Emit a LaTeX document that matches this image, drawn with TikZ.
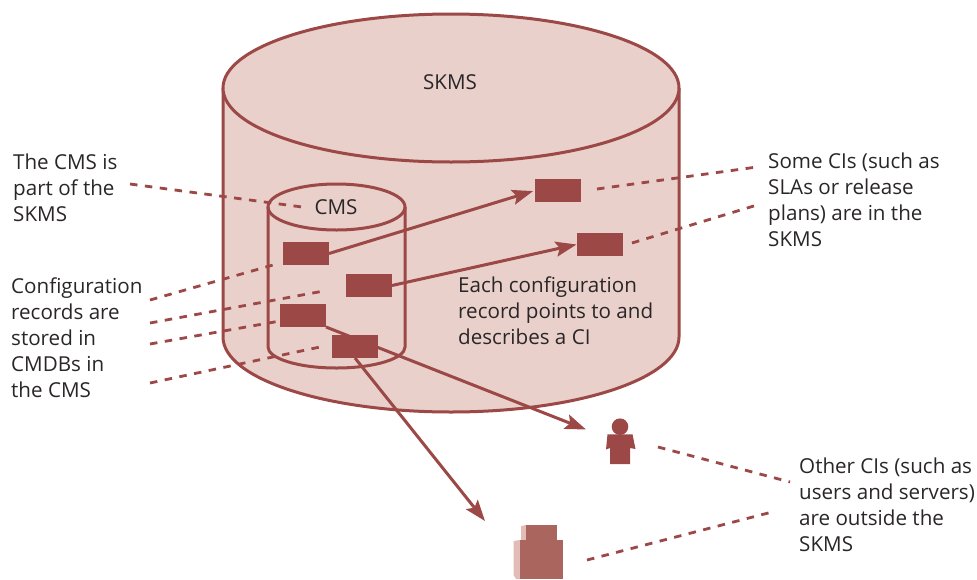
\documentclass[tikz,border=0pt]{standalone}
\usepackage{fontspec}
\setmainfont{Open Sans}
\usetikzlibrary{arrows.meta}
\definecolor{wine}{HTML}{9C4846}
\definecolor{blush}{HTML}{E9D0CB}
\definecolor{ink}{HTML}{2A2627}
\definecolor{srv}{HTML}{AB655F}
\definecolor{srvl}{HTML}{E2BDB8}
\tikzset{
 outline/.style={draw=wine,line width=3pt},
 rec/.style={fill=wine,draw=none,minimum width=46pt,minimum height=23pt,inner sep=0pt,outer sep=0pt},
 lead/.style={draw=wine,line width=2.8pt,dash pattern=on 7.5pt off 7.5pt},
 ptr/.style={draw=wine,line width=3pt,-{Stealth[length=21pt,width=15pt,inset=4pt]}},
 txt/.style={font=\fontsize{20.6pt}{26pt}\selectfont,text=ink,align=left,inner sep=0pt,anchor=north west},
 lab/.style={font=\fontsize{20.6pt}{26pt}\selectfont,text=ink,inner sep=0pt}
}
\begin{document}
\begin{tikzpicture}[x=1pt,y=-1pt]
\useasboundingbox (0,0) rectangle (977,579);
% SKMS cylinder
\path[fill=blush,outline] (223,88) -- (223,337) arc[start angle=180,end angle=360,x radius=228pt,y radius=75pt] -- (679,88);
\path[fill=blush,outline] (451,88) ellipse[x radius=228pt,y radius=74pt];
% CMS cylinder
\path[outline] (268,207) -- (268,347) arc[start angle=180,end angle=360,x radius=68.5pt,y radius=21pt] -- (405,207);
\path[outline] (336.5,207) ellipse[x radius=68.5pt,y radius=23pt];
\node[lab] (skms) at (450,82) {SKMS};
\node[lab] (cms) at (336,207) {CMS};
% records and CIs
\node[rec] (r1) at (306,253.5) {};
\node[rec] (r2) at (369,285.5) {};
\node[rec] (r3) at (303,315.5) {};
\node[rec] (r4) at (355,346.5) {};
\node[rec] (c1) at (558,190.5) {};
\node[rec] (c2) at (599.5,244.5) {};
% person
\node[circle,fill=wine,minimum size=16.6pt,inner sep=0pt] (head) at (620,426.7) {};
\fill[wine] (606,449.5) -- (607.5,434.3) -- (632.5,434.3) -- (635.5,449) -- (630,448) -- (630,464) -- (610,464) -- (610,448) -- cycle;
\coordinate (persontip) at (586,429.5);
% server
\fill[srvl] (521,526) -- (526,525) -- (526,541) -- (521,541) -- cycle;
\fill[srvl] (513.5,541) -- (520,540) -- (520,579) -- (516,579) -- (513.5,575) -- cycle;
\fill[srv] (526,525) rectangle (557,540);
\fill[srv] (520,540) rectangle (563,579);
\coordinate (servertip) at (485,521);
% pointers
\draw[ptr,shorten >=2pt] (r1.east) -- (c1.west);
\draw[ptr] (r2.east) -- (c2.west);
\draw[ptr] (r3.south east) -- (persontip);
\draw[ptr] (r4.south) -- (servertip);
\node[rec] at (r4) {};
% labels
\node[txt] (t1) at (13,154) {The CMS is\\part of the\\SKMS};
\node[txt] (t2) at (11,278) {Configuration\\records are\\stored in\\CMDBs in\\the CMS};
\node[txt] (t3) at (768,153) {Some CIs (such as\\SLAs or release\\plans) are in the\\SKMS};
\node[txt] (t4) at (458,277) {Each configuration\\record points to and\\describes a CI};
\node[txt] (t5) at (799,458) {Other CIs (such as\\users and servers)\\are outside the\\SKMS};
% leaders
\coordinate (a1) at (130,184); \coordinate (a2) at (302,207);
\draw[lead] (a1) -- (a2);
\coordinate (b1) at (150,300); \coordinate (b2) at (273,265);
\draw[lead] (b1) -- (b2);
\coordinate (b3) at (150,323); \coordinate (b4) at (321,291.5);
\draw[lead] (b3) -- (b4);
\coordinate (b5) at (150,344); \coordinate (b6) at (280,321);
\draw[lead] (b5) -- (b6);
\coordinate (b7) at (150,383); \coordinate (b8) at (320,347);
\draw[lead] (b7) -- (b8);
\coordinate (d1) at (597,189); \coordinate (d2) at (757,167);
\draw[lead] (d1) -- (d2);
\coordinate (d3) at (632,243); \coordinate (d4) at (757,205);
\draw[lead] (d3) -- (d4);
\coordinate (e1) at (658,447); \coordinate (e2) at (790,482);
\draw[lead] (e1) -- (e2);
\coordinate (e3) at (587,560); \coordinate (e4) at (772,512);
\draw[lead] (e3) -- (e4);
\end{tikzpicture}
\end{document}
